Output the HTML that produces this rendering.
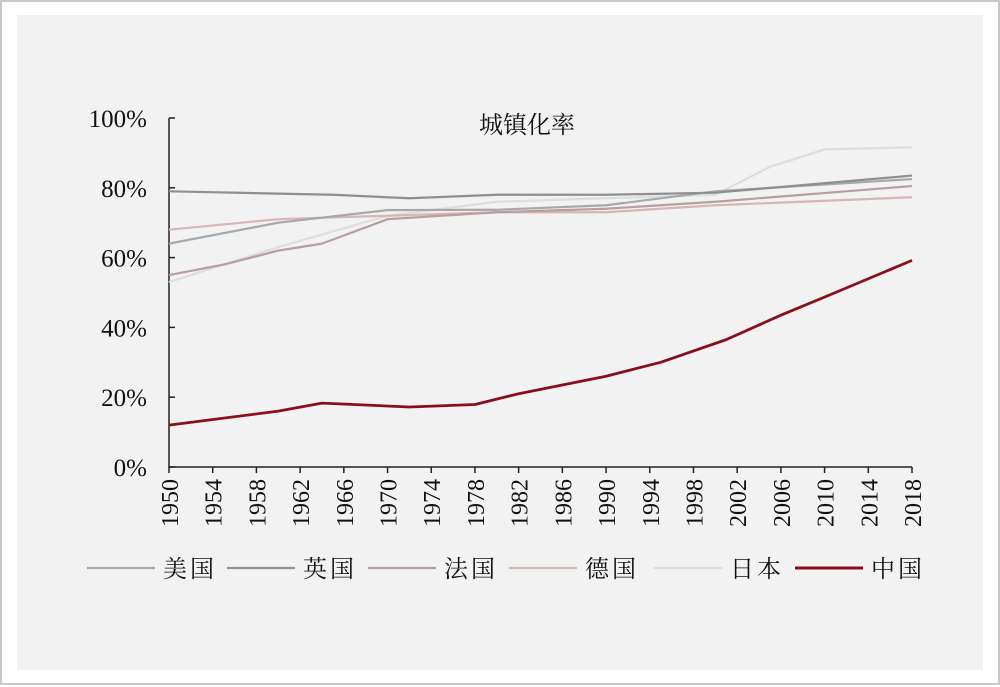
<!DOCTYPE html>
<html><head><meta charset="utf-8"><style>
html,body{margin:0;padding:0;background:#fff}
#wrap{position:relative;width:1000px;height:685px;box-sizing:border-box;border:2px solid #c8c8c8;background:#fff}
#inner{position:absolute;left:15px;top:13px;width:966px;height:655px;background:#f2f2f2}
svg{position:absolute;left:0;top:0}
text{font-family:"Liberation Serif","Noto Serif CJK SC",serif;fill:#111}
</style></head><body>
<div id="wrap">
<div id="inner"></div>
<svg id="chart" width="1000" height="685"></svg>
</div>
<script>
const yTicks=[0,20,40,60,80,100];
const xTickYears=[1950,1954,1958,1962,1966,1970,1974,1978,1982,1986,1990,1994,1998,2002,2006,2010,2014,2018];
const usY=[1950,1960,1970,1980,1990,2000,2018];
const usV=[64,70,73.6,73.7,75,79,82.5];
const ukY=[1950,1965,1972,1980,1990,2000,2018];
const ukV=[79,78,77,78,78,78.6,83.5];
const frY=[1950,1955,1960,1964,1970,1980,1990,2000,2018];
const frV=[55,58,62,64,71,73,74,76,80.5];
const deY=[1950,1960,1970,1980,1990,2000,2018];
const deV=[68,71,72,73,73,75,77.3];
const jpY=[1950,1960,1970,1980,1990,2000,2005,2010,2018];
const jpV=[53,63,72,76,77,78,86,91,91.6];
const cnY=[1950,1960,1964,1972,1978,1982,1990,1995,2001,2006,2011,2018];
const cnV=[12,16,18.3,17.2,17.9,21,26,30,36.5,43.5,50,59.2];
const names=["美国","英国","法国","德国","日本","中国"];
const colors=["#a8a8a8","#8f8f8f","#b89e9e","#d8b4b4","#dedede","#8a0f1c"];
const ys=[usY,ukY,frY,deY,jpY,cnY], vs=[usV,ukV,frV,deV,jpV,cnV];
const NS="http://www.w3.org/2000/svg",svg=document.getElementById('chart');
const X=y=>167+(y-1950)*(743/68), Y=v=>465-v*3.49;
function mk(t,a){const e=document.createElementNS(NS,t);for(const k in a)e.setAttribute(k,a[k]);svg.appendChild(e);return e;}
let ax=mk('path',{d:`M167,${Y(100)}V465H910`,stroke:'#222','stroke-width':1.5,fill:'none'});


yTicks.forEach(v=>{
 const t=mk('text',{x:145,y:Y(v)+9,'text-anchor':'end','font-size':25});t.textContent=v+'%';
 
 
 const l=mk('line',{x1:167,x2:173,y1:Y(v),y2:Y(v),stroke:'#222','stroke-width':1.5});
 
 
});
xTickYears.forEach(yr=>{
 const x=X(yr);
 const l=mk('line',{x1:x,x2:x,y1:465,y2:471,stroke:'#222','stroke-width':1.5});
 
 
 const t=mk('text',{x:0,y:0,'text-anchor':'end','font-size':24,transform:`translate(${x+9},477) rotate(-90)`});t.textContent=yr;
 
 
});
const ti=mk('text',{x:525,y:131,'text-anchor':'middle','font-size':24});ti.textContent='城镇化率';


[4,3,0,2,1,5].forEach(i=>{
 const p=mk('polyline',{points:ys[i].map((y,j)=>X(y)+','+Y(vs[i][j])).join(' '),fill:'none',stroke:colors[i],'stroke-width':i==5?2.8:2.2,'stroke-linejoin':'round'});
 
 
});
const lx=[85,225,366,507,652,793];
names.forEach((n,i)=>{
 const l=mk('line',{x1:lx[i],x2:lx[i]+68,y1:566,y2:566,stroke:colors[i],'stroke-width':i==5?3:2.2});
 
 
 const t=mk('text',{x:lx[i]+76,y:575,'font-size':24,'letter-spacing':'3'});t.textContent=n;
 
 
});
</script>
</body></html>
